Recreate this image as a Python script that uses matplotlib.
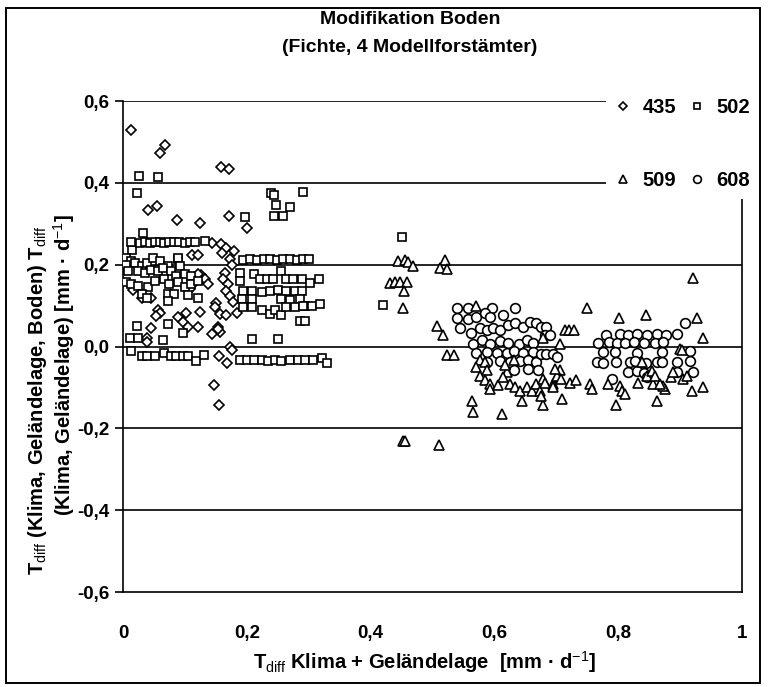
import matplotlib
matplotlib.use('Agg')
import matplotlib.pyplot as plt
from matplotlib.patches import Rectangle

plt.rcParams['font.family'] = ['Liberation Sans', 'DejaVu Sans']
plt.rcParams['mathtext.fontset'] = 'custom'
plt.rcParams['mathtext.rm'] = 'Liberation Sans'
plt.rcParams['mathtext.bf'] = 'Liberation Sans:bold'

# ---------------- data ----------------
x_ticks = [0, 0.2, 0.4, 0.6, 0.8, 1.0]
x_tick_labels = ['0', '0,2', '0,4', '0,6', '0,8', '1']
y_ticks = [-0.6, -0.4, -0.2, 0.0, 0.2, 0.4, 0.6]
y_tick_labels = ['-0,6', '-0,4', '-0,2', '0,0', '0,2', '0,4', '0,6']

# Modellforstamt 435 (diamonds)
x435 = [0.013, 0.06, 0.068, 0.159, 0.172, 0.041, 0.055, 0.088, 0.124, 0.172, 0.2,
        0.143, 0.158, 0.167, 0.18, 0.16, 0.173, 0.176, 0.111, 0.121, 0.126,
        0.165, 0.162, 0.17, 0.167, 0.173, 0.178, 0.157, 0.167, 0.184, 0.157,
        0.016, 0.03, 0.046, 0.056, 0.059, 0.054, 0.089, 0.102, 0.097, 0.105, 0.121, 0.124, 0.046, 0.038, 0.151, 0.153, 0.143,
        0.121, 0.132, 0.137, 0.113, 0.108,
        0.149, 0.154, 0.038, 0.173, 0.155, 0.168, 0.176, 0.147, 0.155]
y435 = [0.53, 0.473, 0.493, 0.438, 0.434, 0.334, 0.344, 0.308, 0.301, 0.32, 0.29,
        0.254, 0.25, 0.24, 0.233, 0.228, 0.214, 0.198, 0.223, 0.223, 0.174,
        0.18, 0.164, 0.152, 0.136, 0.124, 0.108, 0.08, 0.076, 0.082, 0.036,
        0.137, 0.118, 0.118, 0.09, 0.082, 0.075, 0.071, 0.082, 0.059, 0.047, 0.047, 0.084, 0.045, 0.02, 0.106, 0.047, 0.031,
        0.176, 0.165, 0.153, 0.153, 0.141,
        0.097, 0.042, 0.01, 0.0, -0.022, -0.04, -0.008, -0.095, -0.144]

# Modellforstamt 502 (squares)
x502 = [0.026, 0.056, 0.023, 0.239, 0.244, 0.291, 0.247, 0.27, 0.244, 0.258, 0.197, 0.033, 0.014, 0.089,
        0.013, 0.027, 0.035, 0.043, 0.051, 0.059, 0.067, 0.075, 0.083, 0.091, 0.1, 0.108, 0.117, 0.133,
        0.194, 0.205, 0.216, 0.227, 0.238, 0.248, 0.259, 0.27, 0.281, 0.291, 0.301,
        0.005, 0.013, 0.005, 0.019, 0.030, 0.038, 0.048, 0.059, 0.073, 0.089, 0.092,
        0.008, 0.024, 0.035, 0.046, 0.057, 0.065, 0.078, 0.086, 0.1, 0.11,
        0.005, 0.013, 0.024, 0.04, 0.051, 0.067, 0.075, 0.089, 0.1, 0.11, 0.121,
        0.03, 0.038, 0.073, 0.083, 0.105, 0.121, 0.073,
        0.022, 0.073, 0.011, 0.024, 0.065, 0.097, 0.208, 0.251,
        0.013, 0.03, 0.038, 0.051, 0.067, 0.078, 0.086, 0.097, 0.105, 0.118, 0.131,
        0.189, 0.2, 0.211, 0.224, 0.235, 0.246, 0.256, 0.27, 0.283, 0.294, 0.307, 0.321, 0.329,
        0.189, 0.189, 0.211, 0.221, 0.232, 0.243, 0.256, 0.264, 0.275, 0.289, 0.302, 0.316,
        0.194, 0.208, 0.224, 0.238, 0.251, 0.264, 0.278, 0.289,
        0.192, 0.208, 0.256, 0.27, 0.286, 0.294, 0.305, 0.318,
        0.194, 0.208, 0.224, 0.238, 0.246, 0.256, 0.264, 0.278, 0.291,
        0.286, 0.294,
        0.45, 0.42]
y502 = [0.416, 0.415, 0.375, 0.375, 0.37, 0.377, 0.345, 0.34, 0.32, 0.32, 0.317, 0.277, 0.235, 0.213,
        0.255, 0.253, 0.255, 0.254, 0.255, 0.255, 0.254, 0.255, 0.256, 0.255, 0.254, 0.255, 0.256, 0.257,
        0.212, 0.213, 0.212, 0.214, 0.213, 0.212, 0.213, 0.214, 0.212, 0.213, 0.214,
        0.217, 0.208, 0.2, 0.204, 0.196, 0.204, 0.216, 0.208, 0.196, 0.216, 0.196,
        0.184, 0.184, 0.18, 0.188, 0.184, 0.192, 0.184, 0.173, 0.176, 0.173,
        0.157, 0.153, 0.149, 0.145, 0.161, 0.165, 0.153, 0.157, 0.145, 0.153, 0.161,
        0.129, 0.118, 0.129, 0.129, 0.125, 0.118, 0.11,
        0.051, 0.055, 0.021, 0.021, 0.016, 0.032, 0.018, 0.018,
        -0.012, -0.024, -0.024, -0.024, -0.016, -0.024, -0.024, -0.024, -0.024, -0.035, -0.021,
        -0.032, -0.034, -0.032, -0.032, -0.036, -0.032, -0.036, -0.034, -0.032, -0.032, -0.032, -0.028, -0.04,
        0.18, 0.16, 0.176, 0.164, 0.164, 0.164, 0.184, 0.164, 0.164, 0.164, 0.156, 0.164,
        0.136, 0.136, 0.134, 0.136, 0.137, 0.136, 0.135, 0.136,
        0.116, 0.116, 0.116, 0.114, 0.116, 0.1, 0.1, 0.104,
        0.096, 0.096, 0.088, 0.08, 0.088, 0.076, 0.096, 0.096, 0.1,
        0.062, 0.062,
        0.268, 0.102]

# Modellforstamt 509 (triangles)
x509 = [0.444, 0.456, 0.46, 0.468, 0.52, 0.512, 0.523, 0.431, 0.439, 0.447, 0.459, 0.454, 0.452,
        0.507, 0.517, 0.524, 0.534, 0.452, 0.455, 0.511,
        0.570, 0.577, 0.571, 0.585, 0.588, 0.577, 0.585,
        0.593, 0.593, 0.606, 0.62, 0.614, 0.625, 0.633, 0.641, 0.652, 0.66, 0.668, 0.674, 0.679, 0.694, 0.701, 0.706,
        0.564, 0.566, 0.612, 0.645, 0.679, 0.617, 0.631, 0.679,
        0.921, 0.749, 0.801, 0.845, 0.928, 0.937, 0.714, 0.721, 0.729, 0.706,
        0.682, 0.695, 0.701, 0.707, 0.698, 0.722, 0.732, 0.71, 0.676,
        0.754, 0.758, 0.784, 0.803, 0.806, 0.811, 0.796, 0.832, 0.857, 0.862, 0.846,
        0.876, 0.873, 0.868, 0.9, 0.903, 0.886, 0.889, 0.905, 0.911, 0.854, 0.859, 0.919, 0.937, 0.838]
y509 = [0.209, 0.212, 0.207, 0.197, 0.212, 0.192, 0.19, 0.155, 0.158, 0.158, 0.158, 0.135, 0.094,
        0.049, 0.028, -0.021, -0.02, -0.232, -0.23, -0.241,
        0.098, -0.034, -0.05, -0.038, -0.058, -0.071, -0.083,
        -0.091, -0.103, -0.095, -0.062, -0.075, -0.091, -0.099, -0.108, -0.099, -0.108, -0.091, -0.108, -0.079, -0.091, -0.075, -0.058,
        -0.132, -0.161, -0.165, -0.134, -0.142, -0.046, -0.034, 0.02,
        0.167, 0.093, 0.069, 0.077, 0.07, 0.021, 0.04, 0.04, 0.04, 0.007,
        -0.088, -0.1, -0.071, -0.08, -0.055, -0.088, -0.083, -0.129, -0.12,
        -0.092, -0.104, -0.092, -0.096, -0.108, -0.115, -0.143, -0.088, -0.092, -0.133, -0.071,
        -0.104, -0.096, -0.092, -0.005, -0.009, -0.075, -0.063, -0.08, -0.071, -0.059, -0.071, -0.108, -0.098, -0.038]

# Modellforstamt 608 (circles)
x608 = [0.539, 0.558, 0.596, 0.633,
        0.539, 0.558, 0.571, 0.585, 0.593, 0.614,
        0.544, 0.563, 0.577, 0.588, 0.598, 0.609, 0.622, 0.633, 0.647, 0.658, 0.668,
        0.566, 0.58, 0.593, 0.609, 0.622, 0.639, 0.652, 0.663,
        0.571, 0.588, 0.604, 0.62, 0.631, 0.647, 0.663,
        0.588, 0.609, 0.625, 0.641, 0.655, 0.668,
        0.631, 0.655, 0.671,
        0.676, 0.684, 0.681, 0.69, 0.676, 0.684, 0.695, 0.701,
        0.781, 0.803, 0.816, 0.83, 0.846, 0.862, 0.878, 0.895,
        0.768, 0.785, 0.798, 0.811, 0.825, 0.841, 0.86, 0.873,
        0.776, 0.795, 0.83, 0.87, 0.916,
        0.765, 0.776, 0.796, 0.819, 0.827, 0.845, 0.862, 0.87, 0.895, 0.916,
        0.816, 0.83, 0.841, 0.895, 0.921,
        0.79, 0.846, 0.908]
y608 = [0.094, 0.095, 0.095, 0.094,
        0.069, 0.067, 0.073, 0.083, 0.071, 0.076,
        0.044, 0.032, 0.044, 0.04, 0.044, 0.04, 0.052, 0.057, 0.048, 0.06, 0.057,
        0.007, 0.015, 0.005, 0.013, 0.008, 0.006, 0.015, 0.009,
        -0.015, -0.013, -0.017, -0.015, -0.012, -0.016, -0.014,
        -0.037, -0.035, -0.039, -0.036, -0.033, -0.038,
        -0.057, -0.055, -0.058,
        0.048, 0.048, 0.028, 0.028, -0.018, -0.018, -0.018, -0.026,
        0.029, 0.031, 0.028, 0.03, 0.029, 0.031, 0.029, 0.03,
        0.009, 0.01, 0.008, 0.009, 0.011, 0.009, 0.008, 0.01,
        -0.014, -0.013, -0.015, -0.014, -0.012,
        -0.038, -0.04, -0.037, -0.039, -0.036, -0.04, -0.038, -0.037, -0.039, -0.036,
        -0.063, -0.061, -0.064, -0.062, -0.063,
        -0.08, -0.075, 0.058]

# ---------------- figure ----------------
W, H = 770, 687
fig = plt.figure(figsize=(W / 100, H / 100), dpi=100)
ax = fig.add_axes([123 / W, 1 - 592 / H, 619 / W, 491 / H])
ax.set_xlim(0, 1)
ax.set_ylim(-0.6, 0.6)

for yv in y_ticks[1:]:
    ax.axhline(yv, color='black', lw=1.2, zorder=1)

for s in ['left', 'bottom', 'right']:
    ax.spines[s].set_linewidth(1.2)
ax.spines['top'].set_visible(False)

ax.set_xticks(x_ticks)
ax.set_xticklabels(x_tick_labels, fontsize=13.5, fontweight='bold')
ax.set_yticks(y_ticks)
ax.set_yticklabels(y_tick_labels, fontsize=13.5, fontweight='bold')
ax.tick_params(axis='x', length=0, pad=24)
ax.tick_params(axis='y', length=6, width=1.2, direction='out', pad=4)

mk = dict(ls='none', mfc='white', mec='black', mew=1.2, zorder=3)
h435, = ax.plot(x435, y435, marker='D', ms=5.2, label='435', **mk)
h502, = ax.plot(x502, y502, marker='s', ms=6.0, label='502', **mk)
h608, = ax.plot(x608, y608, marker='o', ms=7.0, label='608', **mk)
h509, = ax.plot(x509, y509, marker='^', ms=7.0, label='509', **mk)

# white area behind the legend (hides grid lines / right spine there)
ax.add_patch(Rectangle((0.78, 0.80), 0.245, 0.25, transform=ax.transAxes,
                       facecolor='white', edgecolor='none', zorder=4, clip_on=False))
leg = ax.legend(handles=[h435, h509, h502, h608], ncol=2, loc='center',
                bbox_to_anchor=(0.905, 0.912), frameon=False,
                prop={'weight': 'bold', 'size': 14.5}, labelspacing=2.7,
                handlelength=0.7, handletextpad=0.6, columnspacing=0.7,
                borderaxespad=0, markerscale=0.8)
leg.set_zorder(5)

# titles
fig.text(410 / W, 1 - 19 / H, 'Modifikation Boden', ha='center', va='center',
         fontsize=14, fontweight='bold')
fig.text(410 / W, 1 - 47 / H, '(Fichte, 4 Modellforstämter)', ha='center', va='center',
         fontsize=14, fontweight='bold')

# y label (two lines)
fig.text(38 / W, 1 - 400 / H,
         r'T$_{\mathrm{diff}}$ (Klima, Geländelage, Boden) T$_{\mathrm{diff}}$',
         rotation=90, ha='center', va='center', fontsize=14.5, fontweight='bold')
fig.text(64 / W, 1 - 365 / H,
         r'(Klima, Geländelage) [mm · d$^{\mathrm{-1}}$]',
         rotation=90, ha='center', va='center', fontsize=14.5, fontweight='bold')

# x label
fig.text(425 / W, 1 - 662 / H,
         r'T$_{\mathrm{diff}}$ Klima + Geländelage  [mm · d$^{\mathrm{-1}}$]',
         ha='center', va='center', fontsize=14.5, fontweight='bold')

# outer frame
fig.add_artist(Rectangle((6 / W, 1 - 683 / H), (760 - 6) / W, (683 - 8) / H,
                         transform=fig.transFigure, fill=False, lw=1.4, ec='black'))

fig.savefig('out.png', dpi=100)
